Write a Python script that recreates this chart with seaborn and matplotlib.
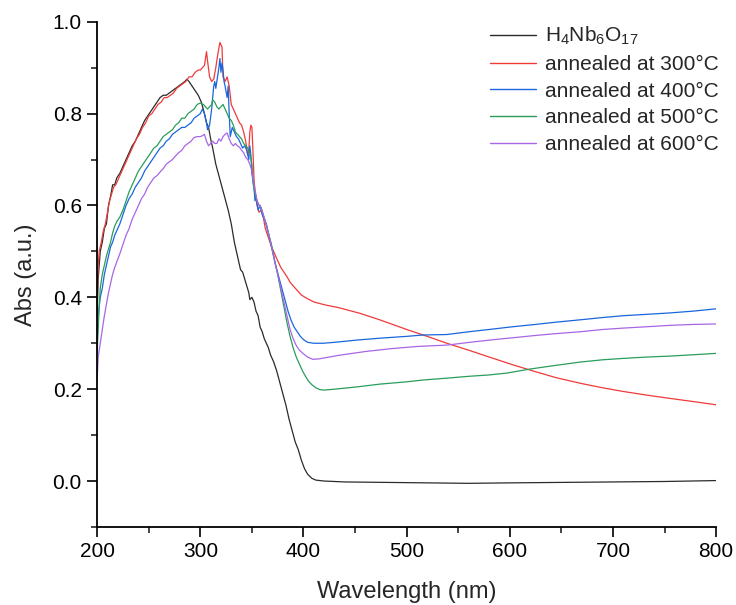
import numpy as np
import pandas as pd
import matplotlib
matplotlib.use("Agg")
import matplotlib.pyplot as plt
from matplotlib.ticker import MultipleLocator
import seaborn as sns

# ---------------- data ----------------
labels = [r"H$_4$Nb$_6$O$_{17}$", "annealed at 300°C", "annealed at 400°C",
          "annealed at 500°C", "annealed at 600°C"]
colors = ["#2b2b2b", "#f03a3a", "#1a66dd", "#2a9d5a", "#a866e6"]

wl_h4 = [200, 201, 203, 205, 207, 209, 211, 213, 215, 217, 219, 222, 225, 228, 231, 234, 237, 240, 243, 246,
         249, 252, 255, 258, 261, 264, 267, 270, 273, 276, 279, 282, 285, 287, 289, 292, 295, 298, 301, 304,
         306, 308, 310, 312, 315, 318, 321, 324, 327, 330, 333, 336, 339, 341, 343, 345, 347, 348, 350, 352,
         354, 356, 358, 360, 362, 364, 366, 368, 371, 374, 377, 380, 383, 386, 389, 392, 395, 398, 401, 404,
         408, 412, 420, 440, 480, 520, 560, 600, 650, 700, 750, 800]
ab_h4 = [0.36, 0.44, 0.50, 0.52, 0.55, 0.56, 0.60, 0.62, 0.645, 0.645, 0.66, 0.67, 0.685, 0.70, 0.715, 0.73,
         0.74, 0.755, 0.77, 0.785, 0.795, 0.805, 0.815, 0.825, 0.835, 0.84, 0.84, 0.845, 0.85, 0.855, 0.86,
         0.865, 0.87, 0.875, 0.87, 0.86, 0.85, 0.84, 0.825, 0.80, 0.78, 0.77, 0.745, 0.725, 0.69, 0.665, 0.64,
         0.615, 0.59, 0.56, 0.52, 0.49, 0.46, 0.455, 0.44, 0.425, 0.41, 0.395, 0.40, 0.39, 0.37, 0.36, 0.335,
         0.325, 0.31, 0.30, 0.29, 0.275, 0.26, 0.24, 0.215, 0.19, 0.165, 0.135, 0.11, 0.085, 0.068, 0.045,
         0.027, 0.015, 0.006, 0.002, 0.0, -0.002, -0.003, -0.004, -0.005, -0.004, -0.003, -0.002, -0.001, 0.001]

wl_300 = [200, 201, 202, 204, 206, 208, 210, 212, 214, 216, 218, 220, 223, 226, 229, 232, 235, 238, 241, 244,
          247, 250, 253, 256, 259, 262, 265, 268, 271, 274, 277, 280, 283, 286, 289, 292, 295, 298, 300, 302,
          304, 306, 307, 309, 311, 313, 315, 317, 319, 321, 322, 324, 326, 328, 330, 332, 334, 336, 338, 340,
          342, 344, 346, 347, 348, 349, 350, 351, 352, 353, 355, 357, 359, 361, 363, 366, 369, 372, 375, 378,
          381, 384, 387, 390, 394, 398, 403, 410, 420, 435, 455, 474, 500, 520, 539, 560, 580, 603, 625, 645,
          668, 690, 710, 733, 755, 778, 800]
ab_300 = [0.40, 0.47, 0.50, 0.52, 0.545, 0.56, 0.585, 0.61, 0.625, 0.64, 0.645, 0.655, 0.67, 0.685, 0.70,
          0.715, 0.73, 0.745, 0.755, 0.77, 0.78, 0.795, 0.80, 0.81, 0.82, 0.825, 0.835, 0.835, 0.84, 0.845,
          0.855, 0.86, 0.865, 0.87, 0.88, 0.88, 0.89, 0.895, 0.895, 0.90, 0.905, 0.935, 0.915, 0.88, 0.87,
          0.875, 0.90, 0.93, 0.955, 0.945, 0.88, 0.87, 0.88, 0.86, 0.82, 0.81, 0.80, 0.79, 0.78, 0.775, 0.76,
          0.74, 0.71, 0.72, 0.76, 0.775, 0.77, 0.72, 0.66, 0.63, 0.60, 0.585, 0.59, 0.575, 0.55, 0.53, 0.51,
          0.495, 0.48, 0.465, 0.455, 0.445, 0.433, 0.425, 0.415, 0.405, 0.398, 0.39, 0.384, 0.377, 0.365,
          0.351, 0.33, 0.315, 0.30, 0.285, 0.27, 0.253, 0.238, 0.225, 0.213, 0.203, 0.195, 0.187, 0.18,
          0.173, 0.166]

wl_400 = [200, 201, 203, 205, 207, 209, 211, 213, 215, 217, 219, 222, 225, 228, 231, 234, 237, 240, 243, 246,
          249, 252, 255, 258, 261, 264, 267, 270, 273, 276, 279, 282, 285, 288, 291, 294, 297, 300, 302, 304,
          306, 307, 309, 311, 313, 314, 315, 316, 318, 319, 320, 321, 322, 323, 324, 326, 327, 328, 329, 331,
          333, 335, 337, 339, 341, 343, 345, 347, 348, 349, 350, 352, 353, 354, 356, 358, 360, 362, 364, 366,
          368, 370, 373, 376, 379, 382, 385, 388, 391, 394, 397, 400, 404, 410, 419, 430, 452, 474, 500, 516,
          539, 560, 580, 603, 625, 645, 668, 690, 710, 733, 755, 778, 800]
ab_400 = [0.30, 0.36, 0.40, 0.42, 0.45, 0.47, 0.49, 0.51, 0.52, 0.535, 0.545, 0.56, 0.58, 0.60, 0.615, 0.625,
          0.64, 0.65, 0.66, 0.675, 0.685, 0.695, 0.705, 0.715, 0.725, 0.73, 0.74, 0.745, 0.755, 0.76, 0.765,
          0.77, 0.77, 0.775, 0.78, 0.79, 0.795, 0.80, 0.81, 0.80, 0.78, 0.765, 0.775, 0.81, 0.86, 0.87, 0.855,
          0.87, 0.90, 0.92, 0.89, 0.91, 0.895, 0.87, 0.86, 0.835, 0.86, 0.80, 0.75, 0.77, 0.76, 0.75, 0.745,
          0.735, 0.725, 0.73, 0.72, 0.70, 0.73, 0.71, 0.67, 0.64, 0.61, 0.62, 0.59, 0.60, 0.58, 0.57, 0.56,
          0.54, 0.52, 0.50, 0.47, 0.445, 0.42, 0.395, 0.37, 0.35, 0.335, 0.325, 0.315, 0.308, 0.302, 0.30,
          0.30, 0.302, 0.307, 0.311, 0.315, 0.318, 0.319, 0.325, 0.33, 0.336, 0.341, 0.346, 0.351, 0.356,
          0.36, 0.363, 0.366, 0.37, 0.375]

wl_500 = [200, 201, 202, 203, 205, 207, 209, 211, 213, 215, 217, 219, 222, 225, 228, 231, 234, 237, 240, 243,
          246, 249, 252, 255, 258, 261, 264, 267, 270, 273, 276, 279, 282, 285, 288, 291, 294, 297, 300, 303,
          305, 307, 309, 311, 312, 314, 316, 318, 320, 322, 324, 326, 328, 330, 332, 334, 336, 338, 340, 342,
          344, 346, 348, 350, 351, 353, 355, 357, 359, 361, 363, 366, 369, 372, 375, 378, 381, 384, 387, 390,
          393, 396, 399, 402, 405, 408, 412, 416, 420, 430, 452, 474, 500, 516, 539, 560, 580, 597, 620, 645,
          668, 690, 710, 733, 755, 778, 800]
ab_500 = [0.28, 0.33, 0.38, 0.42, 0.45, 0.47, 0.49, 0.505, 0.52, 0.54, 0.555, 0.565, 0.575, 0.59, 0.61, 0.63,
          0.645, 0.66, 0.675, 0.685, 0.695, 0.705, 0.715, 0.725, 0.73, 0.74, 0.75, 0.755, 0.76, 0.765, 0.775,
          0.78, 0.79, 0.79, 0.80, 0.805, 0.81, 0.82, 0.823, 0.82, 0.815, 0.81, 0.815, 0.82, 0.83, 0.825, 0.815,
          0.81, 0.815, 0.82, 0.81, 0.80, 0.79, 0.785, 0.775, 0.76, 0.755, 0.75, 0.745, 0.735, 0.73, 0.725,
          0.715, 0.69, 0.65, 0.625, 0.61, 0.60, 0.595, 0.58, 0.565, 0.54, 0.515, 0.48, 0.45, 0.415, 0.38,
          0.345, 0.315, 0.29, 0.27, 0.255, 0.24, 0.228, 0.217, 0.21, 0.203, 0.199, 0.198, 0.20, 0.205, 0.211,
          0.216, 0.22, 0.224, 0.228, 0.231, 0.235, 0.244, 0.252, 0.259, 0.264, 0.267, 0.27, 0.272, 0.275, 0.278]

wl_600 = [200, 201, 203, 205, 207, 209, 211, 213, 215, 217, 219, 222, 225, 228, 231, 234, 237, 240, 243, 246,
          249, 252, 255, 258, 261, 264, 267, 270, 273, 276, 279, 282, 285, 288, 291, 294, 297, 300, 302, 304,
          306, 308, 310, 312, 314, 316, 318, 320, 322, 324, 326, 328, 330, 332, 334, 336, 338, 340, 342, 344,
          346, 348, 350, 351, 353, 355, 357, 359, 361, 363, 366, 369, 372, 375, 378, 381, 384, 387, 390, 393,
          396, 400, 404, 409, 415, 425, 435, 460, 484, 510, 539, 565, 585, 603, 625, 645, 668, 690, 710, 733,
          755, 778, 800]
ab_600 = [0.22, 0.27, 0.30, 0.33, 0.36, 0.385, 0.41, 0.43, 0.45, 0.465, 0.477, 0.495, 0.515, 0.535, 0.55,
          0.57, 0.585, 0.60, 0.615, 0.625, 0.64, 0.65, 0.66, 0.665, 0.673, 0.68, 0.69, 0.695, 0.70, 0.708,
          0.715, 0.72, 0.73, 0.735, 0.74, 0.748, 0.75, 0.75, 0.752, 0.755, 0.74, 0.73, 0.735, 0.74, 0.735,
          0.735, 0.745, 0.74, 0.75, 0.755, 0.758, 0.745, 0.735, 0.73, 0.735, 0.73, 0.727, 0.72, 0.715, 0.705,
          0.70, 0.69, 0.675, 0.66, 0.635, 0.61, 0.60, 0.595, 0.58, 0.565, 0.54, 0.51, 0.48, 0.45, 0.42, 0.39,
          0.36, 0.33, 0.31, 0.295, 0.285, 0.277, 0.27, 0.265, 0.266, 0.27, 0.274, 0.282, 0.288, 0.293, 0.296,
          0.303, 0.308, 0.312, 0.317, 0.321, 0.325, 0.33, 0.333, 0.336, 0.339, 0.341, 0.342]

xticks = [200, 300, 400, 500, 600, 700, 800]
yticks = [0.0, 0.2, 0.4, 0.6, 0.8, 1.0]

# ---------------- build table ----------------
series = [(wl_h4, ab_h4), (wl_300, ab_300), (wl_400, ab_400), (wl_500, ab_500), (wl_600, ab_600)]
frames = []
for lab, (w, a) in zip(labels, series):
    frames.append(pd.DataFrame({"Wavelength": w, "Abs": a, "Sample": lab}))
df = pd.concat(frames, ignore_index=True)

# ---------------- style ----------------
sns.set_style("ticks")
plt.rcParams["font.family"] = ["Liberation Sans", "DejaVu Sans"]
plt.rcParams["mathtext.fontset"] = "custom"
plt.rcParams["mathtext.rm"] = "Liberation Sans"
plt.rcParams["mathtext.it"] = "Liberation Sans:italic"
plt.rcParams["mathtext.default"] = "regular"

fig = plt.figure(figsize=(7.36, 6.05), dpi=100)
ax = fig.add_axes([0.132, 0.129, 0.841, 0.835])

sns.lineplot(data=df, x="Wavelength", y="Abs", hue="Sample", hue_order=labels,
             palette=dict(zip(labels, colors)), estimator=None, sort=False,
             linewidth=0.9, ax=ax)

ax.set_xlim(200, 800)
ax.set_ylim(-0.1, 1.0)
ax.set_xticks(xticks)
ax.set_yticks(yticks)
ax.set_xticklabels([str(t) for t in xticks])
ax.set_yticklabels([f"{t:.1f}" for t in yticks])
ax.xaxis.set_minor_locator(MultipleLocator(50))
ax.yaxis.set_minor_locator(MultipleLocator(0.1))
ax.tick_params(which="major", direction="out", length=7, width=1.2, labelsize=15, colors="black", pad=4)
ax.tick_params(which="minor", direction="out", length=4, width=1.2)
for side in ["top", "right"]:
    ax.spines[side].set_visible(False)
for side in ["left", "bottom"]:
    ax.spines[side].set_linewidth(1.3)
    ax.spines[side].set_color("black")

ax.set_xlabel("Wavelength (nm)", fontsize=17, labelpad=14)
ax.set_ylabel("Abs (a.u.)", fontsize=17, labelpad=11)

leg = ax.legend(loc="upper left", bbox_to_anchor=(0.622, 1.01), borderaxespad=0, frameon=False,
                fontsize=15, handlelength=2.2, handletextpad=0.4, labelspacing=0.37)
for line in leg.get_lines():
    line.set_linewidth(1.0)

fig.savefig("out.png", dpi=100)
